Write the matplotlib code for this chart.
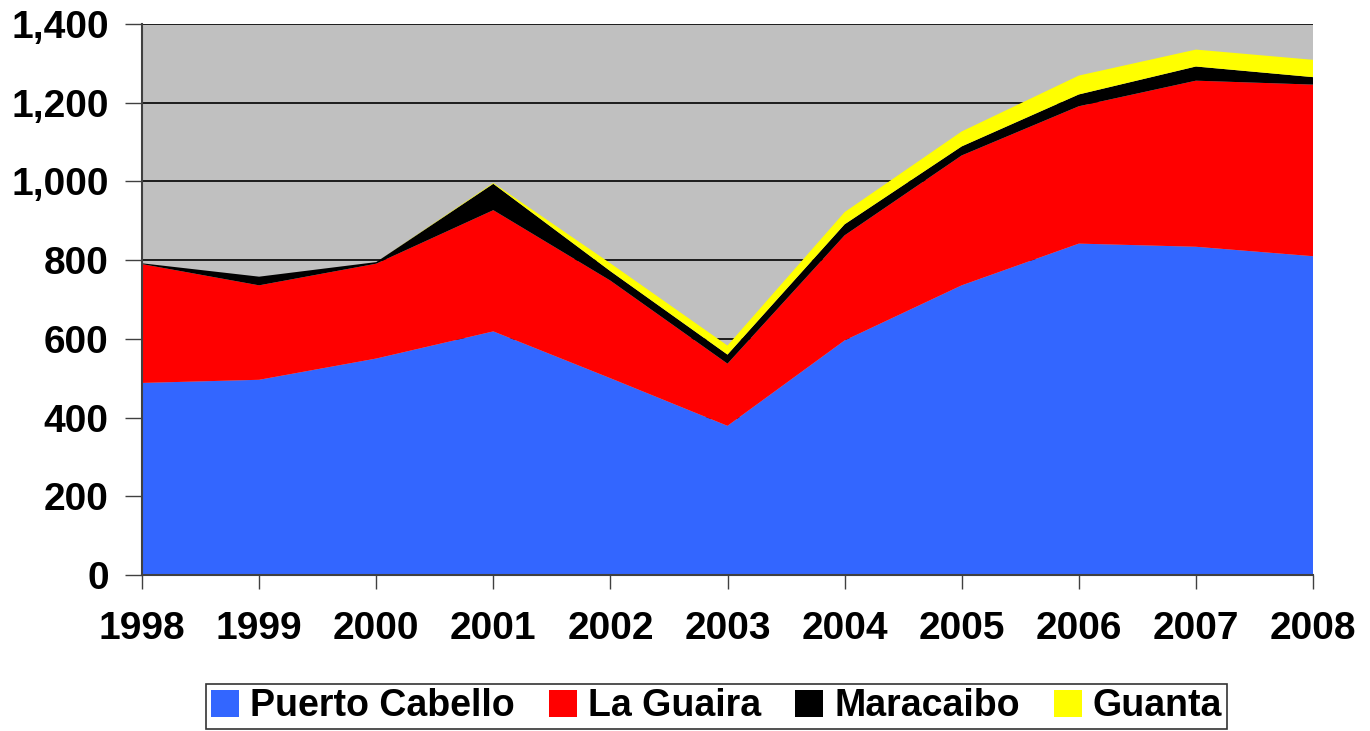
import matplotlib.pyplot as plt
from matplotlib.ticker import FuncFormatter

years = [1998, 1999, 2000, 2001, 2002, 2003, 2004, 2005, 2006, 2007, 2008]
puerto_cabello = [488, 496, 550, 619, 500, 379, 596, 736, 842, 834, 810]
la_guaira = [302, 240, 241, 308, 248, 158, 267, 330, 349, 422, 436]
maracaibo = [2, 22, 4, 67, 24, 23, 28, 23, 30, 36, 19]
guanta = [0, 0, 0, 2, 20, 23, 31, 38, 48, 43, 44]

labels = ['Puerto Cabello', 'La Guaira', 'Maracaibo', 'Guanta']
colors = ['#3366FF', '#FF0000', '#000000', '#FFFF00']

plt.rcParams['font.family'] = ['Liberation Sans', 'DejaVu Sans']
plt.rcParams['font.weight'] = 'bold'

fig = plt.figure(figsize=(13.7, 7.31), dpi=100)
ax = fig.add_axes([142 / 1370, 1 - 575 / 731, (1313 - 142) / 1370, (575 - 24) / 731])
ax.set_facecolor('#C0C0C0')

ax.stackplot(years, puerto_cabello, la_guaira, maracaibo, guanta,
             colors=colors, labels=labels, linewidth=0, zorder=2)

ax.set_xlim(1998, 2008)
ax.set_ylim(0, 1400)
ax.set_xticks(years)
ax.set_yticks(range(0, 1401, 200))
ax.yaxis.set_major_formatter(FuncFormatter(lambda v, p: f'{int(v):,}'))
ax.grid(axis='y', color='black', linewidth=1.2, zorder=1)
ax.set_axisbelow(True)

ax.tick_params(axis='y', length=12, width=1, color='#404040', pad=12, labelsize=28)
ax.tick_params(axis='x', length=10, width=1, color='#404040', pad=16, labelsize=28)
for s in ['top', 'right']:
    ax.spines[s].set_visible(False)
for s in ['left', 'bottom']:
    ax.spines[s].set_color('#404040')
    ax.spines[s].set_linewidth(1.5)
    ax.spines[s].set_zorder(3)

leg = fig.legend(loc='upper center', bbox_to_anchor=(0.523, 1 - 684 / 731), ncol=4,
                 fontsize=27, frameon=True, fancybox=False, edgecolor='black',
                 handlelength=0.75, handleheight=0.75, handletextpad=0.3,
                 columnspacing=0.9, borderpad=0.12, borderaxespad=0)
leg.get_frame().set_linewidth(1.2)

fig.savefig('out.png', dpi=100)
